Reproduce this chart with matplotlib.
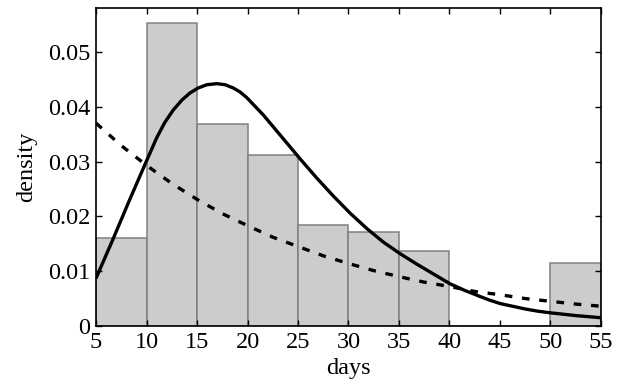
import matplotlib
matplotlib.use("Agg")
import matplotlib.pyplot as plt

# Histogram data (bin edges and densities)
bin_edges = [5, 10, 15, 20, 25, 30, 35, 40, 45, 50, 55]
densities = [0.0161, 0.0552, 0.0368, 0.0311, 0.0184, 0.0172, 0.0137, 0.0, 0.0, 0.0115]

# Solid fitted curve
solid_x = [5.0, 6.65, 8.3, 9.95, 11.0, 11.8, 12.65, 13.5, 14.3, 15.1, 15.96, 16.95,
           17.8, 18.6, 19.25, 19.9, 21.56, 23.2, 25.2, 26.85, 28.5, 30.15, 31.8,
           33.45, 35.1, 36.75, 38.4, 40.05, 41.5, 43.0, 44.0, 45.0, 46.25, 47.5,
           48.75, 50.0, 52.5, 55.0]
solid_y = [0.0087, 0.0157, 0.0229, 0.0299, 0.0343, 0.0371, 0.0394, 0.0412, 0.0425,
           0.0434, 0.0440, 0.0442, 0.0440, 0.0434, 0.0427, 0.0417, 0.0385, 0.0349,
           0.0305, 0.0270, 0.0237, 0.0206, 0.0178, 0.0153, 0.0132, 0.0113, 0.0095,
           0.0077, 0.0065, 0.0054, 0.0047, 0.0041, 0.0036, 0.0031, 0.0027, 0.0024,
           0.0019, 0.0015]

# Dashed fitted curve
dashed_x = [5, 7.5, 10, 12.5, 15, 17.5, 20, 22.5, 25, 27.5, 30, 32.5, 35, 37.5,
            40, 42.5, 45, 47.5, 50, 52.5, 55]
dashed_y = [0.0370, 0.0329, 0.0293, 0.0260, 0.0231, 0.0205, 0.0183, 0.0162, 0.0145, 0.0128,
            0.0114, 0.0101, 0.0090, 0.0080, 0.0072, 0.0063, 0.0057, 0.0050, 0.0045, 0.0040,
            0.0036]

x_ticks = [5, 10, 15, 20, 25, 30, 35, 40, 45, 50, 55]
y_ticks = [0, 0.01, 0.02, 0.03, 0.04, 0.05]
y_tick_labels = ["0", "0.01", "0.02", "0.03", "0.04", "0.05"]

plt.rcParams['font.family'] = ['Liberation Serif', 'DejaVu Serif']
plt.rcParams['lines.scale_dashes'] = False

fig = plt.figure(figsize=(6.26, 3.92), dpi=100)
ax = fig.add_axes([0.1534, 0.1684, 0.8066, 0.8112])

lefts = bin_edges[:-1]
widths = [bin_edges[i + 1] - bin_edges[i] for i in range(len(lefts))]
ax.bar(lefts, densities, width=widths, align='edge', color='#cccccc',
       edgecolor='#808080', linewidth=1.1, zorder=1)

ax.plot(solid_x, solid_y, color='black', linewidth=2.4, zorder=3,
        solid_capstyle='butt', solid_joinstyle='round')
ax.plot(dashed_x, dashed_y, color='black', linewidth=2.4, zorder=3,
        linestyle=(0, (5.5, 7)), dash_capstyle='butt')

ax.set_xlim(5, 55)
ax.set_ylim(0, 0.058)
ax.set_xticks(x_ticks)
ax.set_xticklabels([str(t) for t in x_ticks])
ax.set_yticks(y_ticks)
ax.set_yticklabels(y_tick_labels)

ax.tick_params(direction='in', top=True, right=True, length=4.5, width=1,
               labelsize=17.5, pad=4)
for s in ax.spines.values():
    s.set_linewidth(1.2)
    s.set_zorder(5)

ax.set_xlabel('days', fontsize=17.5, labelpad=4)
ax.set_ylabel('density', fontsize=17.5, labelpad=8)

fig.savefig('out.png', dpi=100)
